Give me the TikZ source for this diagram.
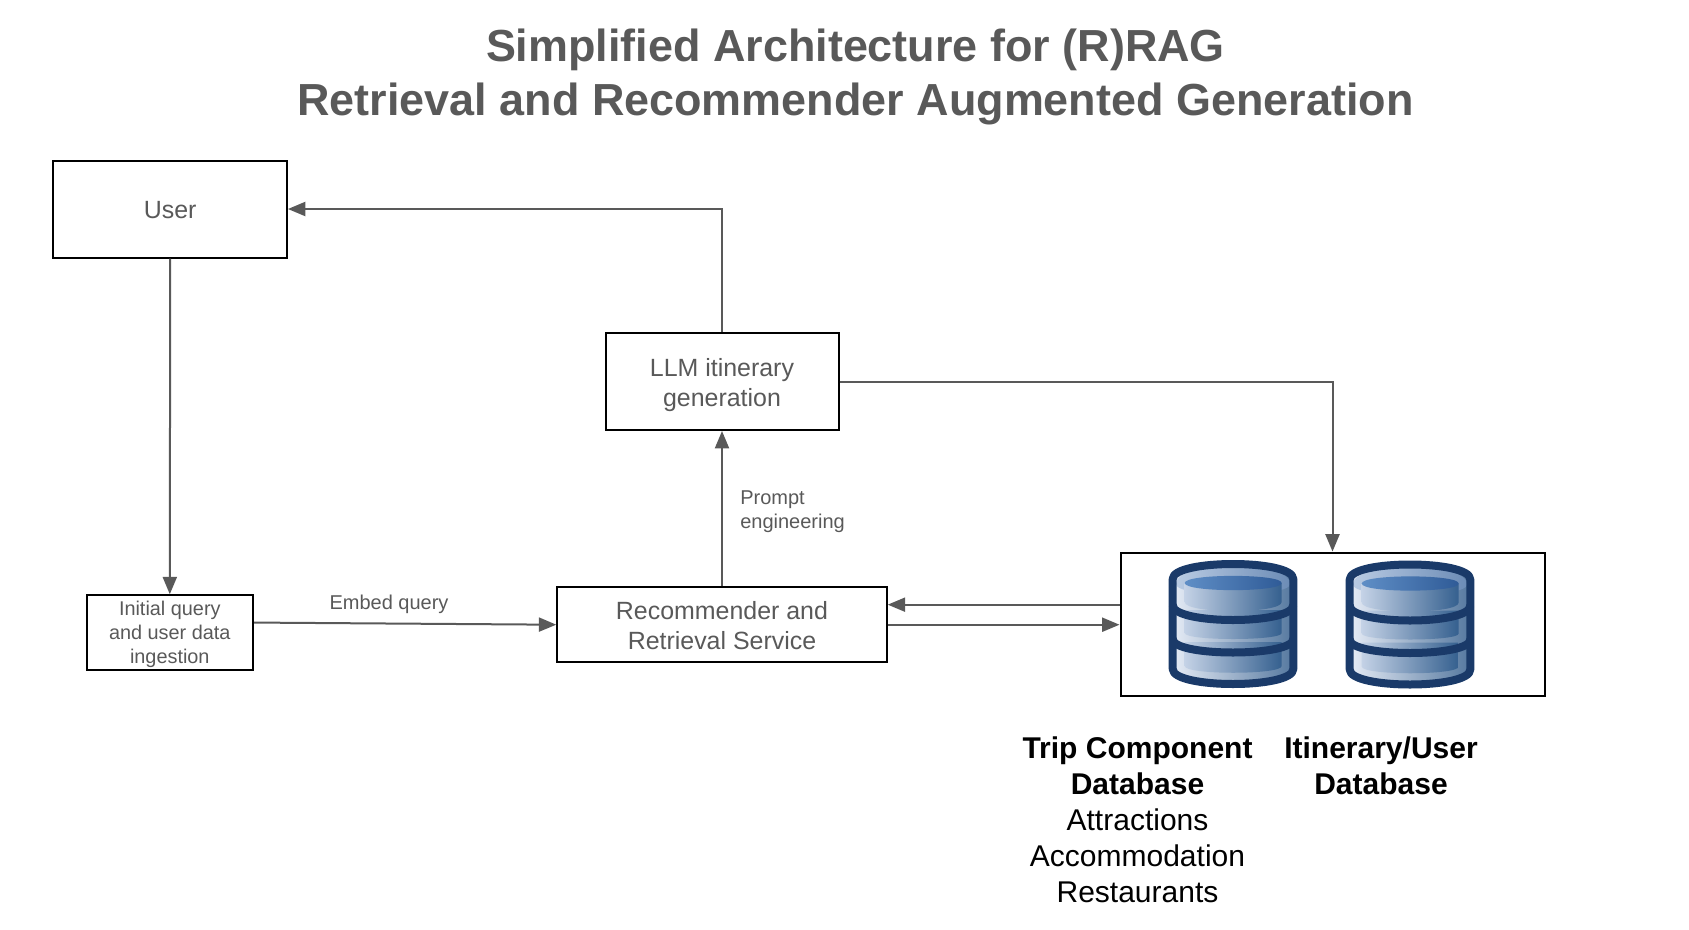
\documentclass[tikz,border=0pt]{standalone}
\usepackage{fontspec}
\setmainfont{Liberation Sans}
\usetikzlibrary{arrows.meta,calc,shadings}
\newdimen\pxu \pxu=0.75pt
\definecolor{ink}{HTML}{595959}
\definecolor{navy}{HTML}{1A3A69}
\tikzset{
  boxn/.style={draw=black,line width=2\pxu,inner sep=0pt,align=center,text=ink},
  conn/.style={draw=ink,line width=2\pxu,-{Triangle[length=13pt,width=10.5pt]}},
  lab/.style={text=ink,inner sep=0pt,font=\fontsize{15}{18}\selectfont},
  dbl/.style={text=black,inner sep=0pt,align=center,font=\fontsize{22.5}{27}\selectfont},
}
\newcommand{\dbicon}[2]{%
\begin{scope}[shift={(#1,#2)}]
  \shade[left color=e1,right color=e2] (3.7,19) .. controls (3.7,-1) and (124.3,-1) .. (124.3,19) -- (124.3,109) .. controls (124.3,129) and (3.7,129) .. (3.7,109) -- cycle;
  \shade[left color=c1,right color=c2] (7,24) .. controls (7,0) and (121,0) .. (121,24) .. controls (121,38) and (7,38) .. (7,24) -- cycle;
  \shade[left color=p1,right color=p2] (15.7,23) -- (15.7,42) .. controls (15.7,54) and (112.7,54) .. (112.7,42) -- (112.7,23) -- cycle;
  \shade[left color=t1,right color=t2] (15.7,23) .. controls (15.7,13.5) and (112.7,13.5) .. (112.7,23) .. controls (112.7,32.5) and (15.7,32.5) .. (15.7,23) -- cycle;
  \shade[left color=p1,right color=p2] (15.7,50) -- (15.7,73) .. controls (15.7,81) and (112.7,81) .. (112.7,73) -- (112.7,50) -- cycle;
  \shade[left color=p1,right color=p2] (15.7,82) -- (15.7,106) .. controls (15.7,115) and (112.7,115) .. (112.7,106) -- (112.7,82) -- cycle;
  \draw[navy,line width=8\pxu,line join=round] (3.7,19) .. controls (3.7,-1) and (124.3,-1) .. (124.3,19) -- (124.3,109) .. controls (124.3,129) and (3.7,129) .. (3.7,109) -- cycle;
  \draw[navy,line width=8\pxu] (3.7,45) .. controls (3.7,65) and (124.3,65) .. (124.3,45);
  \draw[navy,line width=8\pxu] (3.7,79) .. controls (3.7,97) and (124.3,97) .. (124.3,79);
\end{scope}}
\definecolor{e1}{HTML}{E6ECF6}
\definecolor{e2}{HTML}{55789F}
\definecolor{c1}{HTML}{B9CBE3}
\definecolor{c2}{HTML}{6C8CB6}
\definecolor{p1}{HTML}{C4D2E6}
\definecolor{p2}{HTML}{35608F}
\definecolor{t1}{HTML}{5F8EC6}
\definecolor{t2}{HTML}{2F5B97}
\begin{document}
\begin{tikzpicture}[x=0.75pt,y=-0.75pt]
\useasboundingbox (0,0) rectangle (1689,929);
\node[text=ink,align=center,inner sep=0pt,font=\bfseries\fontsize{33.7}{40.5}\selectfont] (title) at (855.5,76.5) {Simplified Architecture for (R)RAG\\Retrieval and Recommender Augmented Generation};
\node[boxn,minimum width=233.5\pxu,minimum height=97\pxu,font=\fontsize{18.7}{22}\selectfont] (user) at (170.2,209) {\rule{0pt}{15pt}User};
\node[boxn,minimum width=233\pxu,minimum height=97\pxu,font=\fontsize{18.7}{22.5}\selectfont] (llm) at (722,381.5) {\rule{0pt}{18.4pt}LLM itinerary\\generation};
\node[boxn,minimum width=166.5\pxu,minimum height=74.5\pxu,font=\fontsize{14.9}{18}\selectfont] (init) at (169.8,632.5) {\rule{0pt}{13.4pt}Initial query\\and user data\\ingestion};
\node[boxn,minimum width=329.5\pxu,minimum height=74.5\pxu,font=\fontsize{18.7}{22.5}\selectfont] (rec) at (722,624.7) {\rule{0pt}{15.2pt}Recommender and\\Retrieval Service};
\node[boxn,minimum width=424\pxu,minimum height=143.5\pxu] (store) at (1332.5,624.3) {};
\dbicon{1169}{560}
\dbicon{1346}{560.5}
\coordinate (back) at ($(store.north west)!0.365!(store.south west)$);
\draw[conn] (user.south) -- (init.north);
\draw[conn] ($(init.north east)!0.37!(init.south east)$) -- (rec.west);
\draw[conn] (rec.north) -- (llm.south);
\draw[conn] (llm.north) |- (user.east);
\draw[conn] (llm.east) -| (store.north);
\draw[conn] (back) -- (back -| rec.east);
\draw[conn] (rec.east) -- (rec.east -| store.west);
\node[lab] (embed) at (389,604) {Embed query};
\node[lab,align=left,anchor=west] (prompt) at (740,511.5) {Prompt\\engineering};
\node[dbl,anchor=north] (trip) at (1137.5,736) {\textbf{Trip Component}\\\textbf{Database}\\Attractions\\Accommodation\\Restaurants};
\node[dbl,anchor=north] (itin) at (1381,736) {\textbf{Itinerary/User}\\\textbf{Database}};
\end{tikzpicture}
\end{document}
